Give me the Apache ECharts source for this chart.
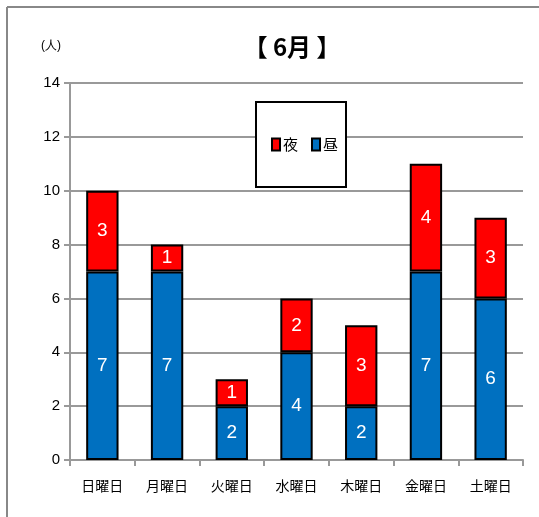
<!DOCTYPE html>
<html>
<head>
<meta charset="utf-8">
<script src="https://cdn.jsdelivr.net/npm/echarts@6/dist/echarts.min.js"></script>
<style>
  html, body { margin: 0; padding: 0; background: #fff; }
  #chart { width: 539px; height: 517px; }
</style>
</head>
<body>
<div id="chart"></div>
<script>
// Visitors per weekday for June, split into daytime and night
const days = ['日曜日', '月曜日', '火曜日', '水曜日', '木曜日', '金曜日', '土曜日'];
const dayCounts = [7, 7, 2, 4, 2, 7, 6];   // 昼
const nightCounts = [3, 1, 1, 2, 3, 4, 3]; // 夜
const yTicks = [0, 2, 4, 6, 8, 10, 12, 14];

const narrow = '"Liberation Sans Narrow", "Arial Narrow", "Liberation Sans", sans-serif';
const cjk = '"Noto Sans CJK JP", "Noto Sans", sans-serif';

const chart = echarts.init(document.getElementById('chart'), null, { renderer: 'canvas' });

const barLabel = {
  show: true,
  position: 'inside',
  color: '#fff',
  fontSize: 19,
  fontFamily: narrow
};

chart.setOption({
  animation: false,
  backgroundColor: '#fff',
  title: {
    text: '【 6月 】',
    left: 287,
    top: 30,
    textAlign: 'center',
    textStyle: { fontSize: 24, fontWeight: 'bold', color: '#000', fontFamily: cjk }
  },
  graphic: [
    { type: 'line', shape: { x1: 7, y1: 7, x2: 539, y2: 7 }, style: { stroke: '#888', lineWidth: 2 } },
    { type: 'line', shape: { x1: 7, y1: 7, x2: 7, y2: 517 }, style: { stroke: '#888', lineWidth: 2 } },
    {
      type: 'text', left: 41, top: 40,
      style: { text: '(人)', fontSize: 12, fill: '#000', font: '12px ' + cjk }
    }
  ],
  legend: {
    data: ['夜', '昼'],
    left: 256,
    top: 102,
    width: 84,
    padding: [35, 8, 35, 15],
    icon: 'rect',
    itemWidth: 8,
    itemHeight: 12,
    itemGap: 13,
    backgroundColor: '#fff',
    borderColor: '#000',
    borderWidth: 2,
    borderRadius: 0,
    textStyle: { fontSize: 15, color: '#000', fontFamily: cjk, padding: [0, 0, 0, -2] }
  },
  grid: { left: 70, right: 16, top: 83, bottom: 57, containLabel: false },
  xAxis: {
    type: 'category',
    data: days,
    axisLine: { lineStyle: { color: '#999', width: 2 } },
    axisTick: { show: true, alignWithLabel: false, length: 6, lineStyle: { color: '#999', width: 2 } },
    axisLabel: { color: '#000', fontSize: 14, fontFamily: cjk, margin: 19 }
  },
  yAxis: {
    type: 'value',
    min: yTicks[0],
    max: yTicks[yTicks.length - 1],
    interval: 2,
    axisLine: { show: true, lineStyle: { color: '#999', width: 2 } },
    axisTick: { show: true, length: 6, lineStyle: { color: '#999', width: 2 } },
    axisLabel: { color: '#000', fontSize: 15, fontFamily: narrow, margin: 10 },
    splitLine: { show: true, lineStyle: { color: '#999', width: 2 } }
  },
  series: [
    {
      name: '昼',
      type: 'bar',
      stack: 'total',
      data: dayCounts,
      barWidth: '50%',
      itemStyle: { color: '#0070C0', borderColor: '#000', borderWidth: 2 },
      label: barLabel
    },
    {
      name: '夜',
      type: 'bar',
      stack: 'total',
      data: nightCounts,
      barWidth: '50%',
      itemStyle: { color: '#FF0000', borderColor: '#000', borderWidth: 2 },
      label: barLabel
    }
  ]
});
</script>
</body>
</html>
